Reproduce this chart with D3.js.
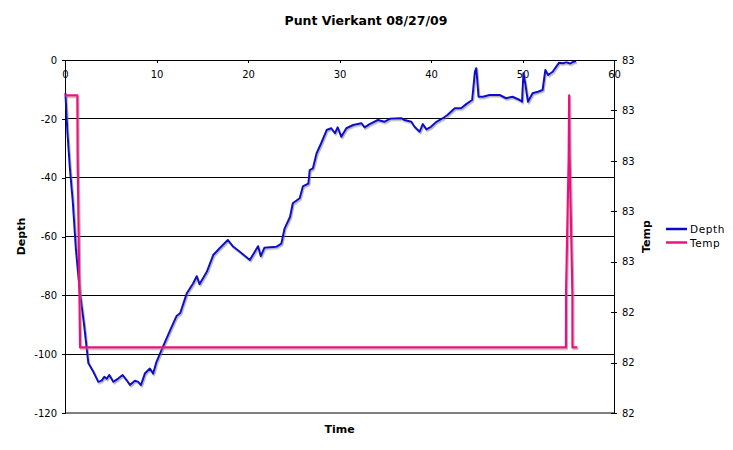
<!DOCTYPE html>
<html>
<head>
<meta charset="utf-8">
<script src="https://cdn.jsdelivr.net/npm/d3@7/dist/d3.min.js"></script>
<style>
  html, body { margin: 0; padding: 0; background: #fff; }
  svg { display: block; font-family: "DejaVu Sans", Verdana, sans-serif; }
</style>
</head>
<body>
<svg id="chart" width="733" height="450"></svg>
<script>
// ---- data ----
const depthTime = [0.05,0.25,0.55,0.84,1.2,1.64,2.07,2.55,3.1,3.64,4.0,4.3,4.55,4.84,5.28,5.82,6.3,6.73,7.1,7.64,8.0,8.3,8.73,9.28,9.64,10.0,10.7,11.5,12.2,12.6,13.3,14.0,14.4,14.7,15.5,16.2,16.9,17.8,18.4,19.1,20.2,21.1,21.4,21.8,23.1,23.65,24.0,24.6,24.9,25.65,26.0,26.6,26.75,27.1,27.5,28.0,28.6,29.1,29.5,29.8,30.2,30.75,31.5,32.4,32.75,33.3,34.2,34.9,35.5,36.75,37.1,37.85,38.2,38.75,39.1,39.5,40.0,40.6,41.3,41.8,42.6,43.3,43.85,44.5,44.8,44.95,45.2,45.7,46.4,47.5,48.2,48.9,49.7,49.95,50.1,50.3,50.6,51.1,51.7,52.2,52.5,52.8,53.3,54.0,54.4,54.8,55.2,55.5,55.85];
const depthValue = [-11.3,-23.8,-37.4,-47.6,-64.6,-79.3,-89.5,-103,-106,-109.4,-109,-107.7,-108.4,-107.1,-109.4,-108.3,-107.1,-108.8,-110.5,-109,-109.4,-110.5,-106.6,-104.9,-106.6,-102.6,-97.5,-91.8,-87,-86,-79.4,-76,-73.5,-76.2,-72,-66.3,-64,-61.2,-63.5,-65.2,-68,-63.3,-66.7,-63.8,-63.5,-62.4,-57.3,-53.3,-48.7,-47,-43,-42,-37.4,-36.8,-31.7,-28.3,-23.8,-23.2,-24.9,-22.9,-26.1,-23.2,-22.1,-21.5,-22.9,-21.8,-20.4,-21,-20,-19.8,-20.4,-21,-22.7,-24.4,-21.8,-23.6,-22.7,-21,-19.8,-18.7,-16.4,-16.4,-15,-13.6,-4,-2.8,-12.5,-12.5,-11.9,-11.9,-13,-12.5,-13.6,-14.2,-4.5,-7.9,-14.2,-11.3,-10.8,-10.2,-3.4,-5.1,-4,-0.9,-1.1,-0.8,-1.2,-0.7,-0.4];

const tempTime  = [0, 1.35, 1.38, 1.65, 54.75, 54.76, 55.05, 55.1, 55.15, 55.45, 55.46, 56.0];
const tempValue = [82.83, 82.83, 82.71, 82.33, 82.33, 82.44, 82.71, 82.83, 82.71, 82.44, 82.33, 82.33];

const timeTicks  = [0, 10, 20, 30, 40, 50, 60];
const depthTicks = [0, -20, -40, -60, -80, -100, -120];
const tempTicks  = [82.2, 82.3, 82.4, 82.5, 82.6, 82.7, 82.8, 82.9];

const seriesNames  = ["Depth", "Temp"];
const seriesColors = ["#0a0ac8", "#f0107f"];

const chartTitle = "Punt Vierkant 08/27/09";
const xTitle = "Time", yTitle = "Depth", y2Title = "Temp";

// ---- layout ----
const svg = d3.select("#chart");
const L = 65, R = 614, T = 60, B = 413;

const x  = d3.scaleLinear().domain([0, 60]).range([L, R]);
const y  = d3.scaleLinear().domain([-120, 0]).range([B, T]);
const y2 = d3.scaleLinear().domain([82.2, 82.9]).range([B, T]);

const defs = svg.append("defs");
const f = defs.append("filter").attr("id", "shadow")
  .attr("x", "-5%").attr("y", "-5%").attr("width", "110%").attr("height", "110%");
f.append("feDropShadow").attr("dx", 1).attr("dy", 1.5).attr("stdDeviation", 0.7)
  .attr("flood-color", "#777").attr("flood-opacity", 0.55);

// gridlines
svg.append("g").selectAll("line").data(depthTicks.filter(d => d !== 0 && d !== -120)).join("line")
  .attr("x1", L).attr("x2", R).attr("y1", d => y(d)).attr("y2", d => y(d))
  .attr("stroke", "#000").attr("stroke-width", 1).attr("shape-rendering", "crispEdges");

// bottom border (gray)
svg.append("line").attr("x1", L).attr("x2", R).attr("y1", y(-120)).attr("y2", y(-120))
  .attr("stroke", "#808080").attr("stroke-width", 1.2).attr("shape-rendering", "crispEdges");

// left axis
const yAxis = d3.axisLeft(y).tickValues(depthTicks).tickSize(3).tickPadding(5).tickFormat(d3.format("d"));
const gy = svg.append("g").attr("transform", `translate(${L},0)`).call(yAxis);
gy.select(".domain").attr("stroke", "#000").attr("shape-rendering", "crispEdges");
gy.selectAll(".tick line").attr("stroke", "#000").attr("shape-rendering", "crispEdges");
gy.selectAll("text").attr("font-size", "10px").attr("fill", "#000")
  .attr("font-family", "DejaVu Sans, sans-serif").text(d => d3.format("d")(d).replace("−", "-"));

// right axis
const y2Axis = d3.axisRight(y2).tickValues(tempTicks).tickSize(3).tickPadding(5).tickFormat(d3.format(".0f"));
const gy2 = svg.append("g").attr("transform", `translate(${R},0)`).call(y2Axis);
gy2.select(".domain").attr("stroke", "#000").attr("shape-rendering", "crispEdges");
gy2.selectAll(".tick line").attr("x1", -3).attr("stroke", "#000").attr("shape-rendering", "crispEdges");
gy2.selectAll("text").attr("font-size", "10px").attr("fill", "#000")
  .attr("font-family", "DejaVu Sans, sans-serif");

// top (time) axis at depth 0
const xAxis = d3.axisBottom(x).tickValues(timeTicks).tickSize(3).tickPadding(8).tickFormat(d3.format("d"));
const gx = svg.append("g").attr("transform", `translate(0,${T})`).call(xAxis);
gx.select(".domain").attr("stroke", "#000").attr("shape-rendering", "crispEdges");
gx.selectAll(".tick line").attr("stroke", "#000").attr("shape-rendering", "crispEdges");
gx.selectAll("text").attr("font-size", "10px").attr("fill", "#000")
  .attr("font-family", "DejaVu Sans, sans-serif");

// lines
const depthData = depthTime.map((t, i) => [t, depthValue[i]]);
const tempData  = tempTime.map((t, i) => [t, tempValue[i]]);

svg.append("path").datum(depthData)
  .attr("d", d3.line().x(d => x(d[0])).y(d => y(d[1])))
  .attr("fill", "none").attr("stroke", seriesColors[0]).attr("stroke-width", 2)
  .attr("stroke-linejoin", "round").attr("filter", "url(#shadow)");

svg.append("path").datum(tempData)
  .attr("d", d3.line().x(d => x(d[0])).y(d => y2(d[1])))
  .attr("fill", "none").attr("stroke", seriesColors[1]).attr("stroke-width", 2.2)
  .attr("stroke-linejoin", "round").attr("filter", "url(#shadow)");

// titles
svg.append("text").attr("x", 366).attr("y", 25).attr("text-anchor", "middle")
  .attr("font-size", "12.5px").attr("font-weight", "bold").text(chartTitle);
svg.append("text").attr("x", (L + R) / 2).attr("y", 433).attr("text-anchor", "middle")
  .attr("font-size", "11px").attr("font-weight", "bold").text(xTitle);
svg.append("text").attr("transform", `translate(25,${(T + B) / 2}) rotate(-90)`)
  .attr("text-anchor", "middle").attr("font-size", "11px").attr("font-weight", "bold").text(yTitle);
svg.append("text").attr("transform", `translate(650,${(T + B) / 2}) rotate(-90)`)
  .attr("text-anchor", "middle").attr("font-size", "11px").attr("font-weight", "bold").text(y2Title);

// legend
const lg = svg.append("g").attr("transform", "translate(666,229)");
seriesNames.forEach((name, i) => {
  const g = lg.append("g").attr("transform", `translate(0,${i * 13.5})`);
  g.append("line").attr("x1", 0).attr("x2", 21).attr("y1", 0).attr("y2", 0)
    .attr("stroke", seriesColors[i]).attr("stroke-width", 2.5);
  g.append("text").attr("x", 24).attr("y", 4).attr("font-size", "10.5px")
    .attr("letter-spacing", "0.6px").text(name);
});
</script>
</body>
</html>
